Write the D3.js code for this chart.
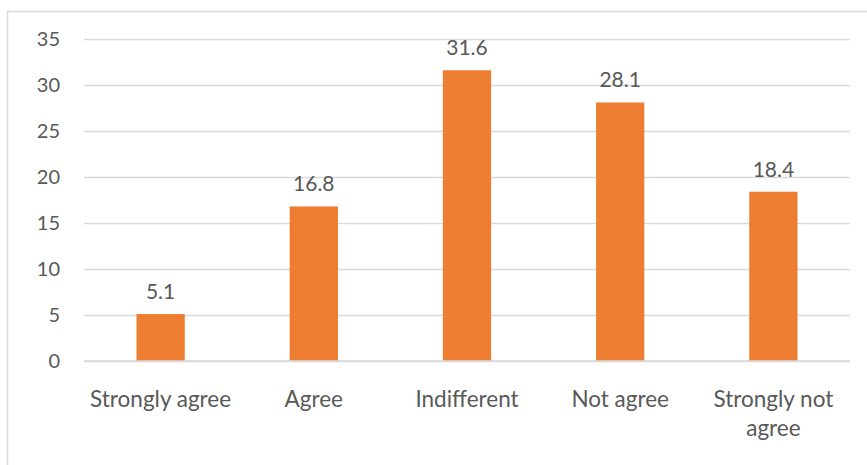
<!DOCTYPE html>
<html>
<head>
<meta charset="utf-8">
<script src="https://cdn.jsdelivr.net/npm/d3@7"></script>
<style>
  html, body { margin: 0; padding: 0; background: #fff; }
  svg { display: block; }
  text { font-family: Lato, "Open Sans", sans-serif; fill: #595959; }
</style>
</head>
<body>
<svg id="chart" width="867" height="465"></svg>
<script>
// Survey response shares (%)
const categories = ["Strongly agree", "Agree", "Indifferent", "Not agree", "Strongly not agree"];
const values = [5.1, 16.8, 31.6, 28.1, 18.4];
const yTicks = [0, 5, 10, 15, 20, 25, 30, 35];

const svg = d3.select("#chart");
const W = 867, H = 465;

// chart frame
svg.append("rect")
  .attr("x", 7.5).attr("y", 11.5)
  .attr("width", W + 10).attr("height", H + 10)
  .attr("fill", "#fff").attr("stroke", "#d9d9d9").attr("stroke-width", 1.5);

const plot = { left: 84, right: 850, top: 39, bottom: 361 };

const x = d3.scaleBand()
  .domain(categories)
  .range([plot.left, plot.right])
  .paddingInner(0.685)
  .paddingOuter(0.3425);

const y = d3.scaleLinear().domain([0, 35]).range([plot.bottom, plot.top]);

// gridlines
const yAxis = d3.axisLeft(y).tickValues(yTicks).tickSize(-(plot.right - plot.left)).tickPadding(24);
const gy = svg.append("g").attr("transform", `translate(${plot.left},0)`).call(yAxis);
gy.select(".domain").remove();
gy.selectAll(".tick line").attr("stroke", "#d9d9d9").attr("stroke-width", 1.3);
gy.selectAll(".tick text").attr("font-size", 20).attr("fill", "#595959").attr("dy", "0.34em");

// bars
svg.append("g").selectAll("rect")
  .data(values)
  .join("rect")
  .attr("x", (d, i) => x(categories[i]))
  .attr("width", x.bandwidth())
  .attr("y", d => y(d))
  .attr("height", d => y(0) - y(d))
  .attr("fill", "#ed7d31");

// baseline redrawn above the bars
svg.append("line")
  .attr("x1", plot.left).attr("x2", plot.right)
  .attr("y1", y(0)).attr("y2", y(0))
  .attr("stroke", "#d9d9d9").attr("stroke-width", 1.3);

// value labels
svg.append("g").selectAll("text")
  .data(values)
  .join("text")
  .attr("x", (d, i) => x(categories[i]) + x.bandwidth() / 2)
  .attr("y", d => y(d) - 15)
  .attr("text-anchor", "middle")
  .attr("font-size", 21)
  .text(d => d.toFixed(1));

// category labels (wrapped where the band is too narrow)
const xl = svg.append("g");
categories.forEach(c => {
  const lines = c === "Strongly not agree" ? ["Strongly not", "agree"] : [c];
  const t = xl.append("text")
    .attr("x", x(c) + x.bandwidth() / 2)
    .attr("y", 407)
    .attr("text-anchor", "middle")
    .attr("font-size", 22.5);
  lines.forEach((l, k) => {
    t.append("tspan").attr("x", x(c) + x.bandwidth() / 2).attr("dy", k === 0 ? 0 : 29).text(l);
  });
});
</script>
</body>
</html>
